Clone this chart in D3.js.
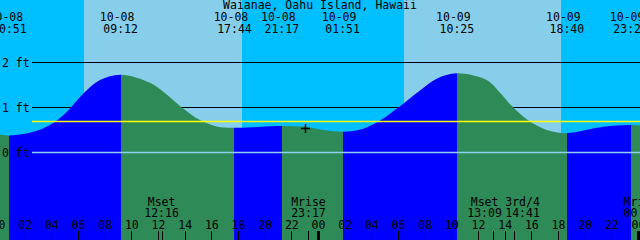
<!DOCTYPE html>
<html><head><meta charset="utf-8">
<script src="https://cdn.jsdelivr.net/npm/d3@7"></script>
<style>
html,body{margin:0;padding:0;background:#00BFFF;}
svg{display:block;}
text{font-family:"DejaVu Sans Mono",monospace;font-size:11.5px;fill:#000;}
line.crisp{shape-rendering:crispEdges;}
.tick line{shape-rendering:crispEdges;}
</style>
</head><body>
<svg id="c" width="640" height="240"></svg>
<script>
const title = "Waianae, Oahu Island, Hawaii";
const domainTimes = ["10-08 00:09", "10-10 00:09"];

// Tide extremes
const tideTimes   = ["10-08 00:51","10-08 09:12","10-08 17:44","10-08 21:17","10-09 01:51","10-09 10:25","10-09 18:40","10-09 23:27"];
const tideTypes   = ["low","high","low","high","low","high","low","high"];
const tideHeights = [0.38, 1.73, 0.55, 0.59, 0.46, 1.76, 0.43, 0.61];

// Additional curve readings (ft) between extremes
const readTimes   = ["10-07 23:00","10-08 02:39","10-08 03:54","10-08 05:09","10-08 06:24","10-08 07:39",
                     "10-08 11:24","10-08 12:39","10-08 13:47","10-08 15:09","10-08 16:24",
                     "10-08 23:02","10-09 00:09","10-09 03:24","10-09 04:39","10-09 06:01","10-09 07:39","10-09 08:54",
                     "10-09 12:39","10-09 13:39","10-09 14:39","10-09 15:47","10-09 17:09","10-09 21:24","10-10 01:00"];
const readHeights = [0.47, 0.46, 0.61, 0.90, 1.31, 1.61,
                     1.55, 1.29, 1.00, 0.72, 0.58,
                     0.57, 0.51, 0.53, 0.71, 1.00, 1.38, 1.64,
                     1.61, 1.33, 1.00, 0.71, 0.50, 0.57, 0.57];

const sunriseTimes = ["10-08 06:27","10-09 06:28"];
const sunsetTimes  = ["10-08 18:16","10-09 18:15"];

const moonTimes = ["10-08 12:16","10-08 23:17","10-09 13:09","10-09 14:41","10-10 00:13"];
const moonNames = ["Mset","Mrise","Mset","3rd/4","Mrise"];

const levelValues = [0, 1, 2];
const levelLabels = ["0 ft","1 ft","2 ft"];
const markLevel = 0.71;
const nowTime = "10-08 23:03";
const nowHeight = 0.55;

const W = 640, H = 240;
const parse = d3.utcParse("%m-%d %H:%M");
const fmtHM = d3.utcFormat("%H:%M");
const fmtMD = d3.utcFormat("%m-%d");

const x = d3.scaleUtc().domain(domainTimes.map(parse)).range([0, W]);
const y = d3.scaleLinear().domain([0, 2]).range([152.5, 62.5]);

const svg = d3.select("#c");

svg.append("rect").attr("width", W).attr("height", H).attr("fill", "#00BFFF");
sunriseTimes.forEach((s, i) => {
  const a = Math.round(x(parse(s))), b = Math.round(x(parse(sunsetTimes[i])));
  svg.append("rect").attr("x", a).attr("y", 0).attr("width", b - a).attr("height", H).attr("fill", "#87CEEB");
});

svg.selectAll("line.lvl").data(levelValues.filter(v => v > 0)).join("line")
  .attr("class", "lvl crisp")
  .attr("x1", 32).attr("x2", W)
  .attr("y1", d => y(d)).attr("y2", d => y(d))
  .attr("stroke", "#000").attr("stroke-width", 1);

const pts = tideTimes.map((t, i) => ({t: parse(t), h: tideHeights[i]}))
  .concat(readTimes.map((t, i) => ({t: parse(t), h: readHeights[i]})))
  .sort((a, b) => a.t - b.t);

const area = d3.area().x(d => x(d.t)).y0(H).y1(d => y(d.h)).curve(d3.curveCatmullRom.alpha(0.5));

const defs = svg.append("defs");
defs.append("clipPath").attr("id", "tideClip").append("path").attr("d", area(pts));

const bounds = [x.domain()[0]].concat(tideTimes.map(parse)).concat([x.domain()[1]]);
const segs = [];
for (let i = 0; i < bounds.length - 1; i++) {
  let rising;
  if (i < tideTypes.length) rising = tideTypes[i] === "high";
  else rising = tideTypes[tideTypes.length - 1] === "low";
  segs.push({a: bounds[i], b: bounds[i + 1], rising});
}
svg.append("g").attr("clip-path", "url(#tideClip)")
  .selectAll("rect").data(segs).join("rect")
  .attr("x", d => Math.round(x(d.a))).attr("y", 0)
  .attr("width", d => Math.round(x(d.b)) - Math.round(x(d.a))).attr("height", H)
  .attr("fill", d => d.rising ? "#0000FF" : "#2E8B57");

svg.append("line").attr("x1", 32).attr("x2", W).attr("y1", y(0)).attr("y2", y(0))
  .attr("stroke", "#8FD0F0").attr("stroke-width", 1.3);
const my = Math.round(y(markLevel)) + 0.5;
svg.append("line").attr("x1", 32).attr("x2", W).attr("y1", my).attr("y2", my)
  .attr("stroke", "#FFFF00").attr("stroke-width", 1.3);

svg.selectAll("text.lvl").data(levelValues).join("text")
  .attr("x", 2).attr("y", d => y(d) + 4)
  .text((d, i) => levelLabels[i]);

svg.append("text").attr("x", 320).attr("y", 9).attr("text-anchor", "middle").text(title);

const tl = svg.append("g");
tideTimes.forEach(t => {
  const d = parse(t), cx = x(d);
  tl.append("text").attr("x", cx - 3.5).attr("y", 21).attr("text-anchor", "middle").text(fmtMD(d));
  tl.append("text").attr("x", cx).attr("y", 33).attr("text-anchor", "middle").text(fmtHM(d));
});

const d0 = d3.utcHour.offset(x.domain()[0], -2), d1 = d3.utcHour.offset(x.domain()[1], 2);
const hourTicks = d3.utcHour.every(2).range(d0, d1);
const axis = d3.axisTop(x).tickValues(hourTicks).tickSize(9).tickPadding(2).tickFormat(d3.utcFormat("%H"));
const ag = svg.append("g").attr("transform", `translate(0,${H})`).call(axis);
ag.select(".domain").remove();
ag.attr("font-family", null).attr("font-size", null);
ag.selectAll(".tick line").attr("stroke", "#000")
  .attr("stroke-width", d => d.getUTCHours() === 0 ? 3 : 1);
ag.selectAll(".tick text").attr("fill", "#000");

const moon = moonTimes.map((t, i) => {
  const d = parse(t);
  const lab = fmtHM(d);
  return {t: d, name: moonNames[i], time: lab, cx: x(d), w: Math.max(moonNames[i].length, lab.length) * 7};
});
for (let i = 1; i < moon.length; i++) {
  const a = moon[i - 1], b = moon[i];
  const need = (a.w + b.w) / 2 + 3, gap = b.cx - a.cx;
  if (gap < need) { const p = (need - gap) / 2; a.cx -= p; b.cx += p; }
}
const mg = svg.append("g");
moon.forEach(m => {
  mg.append("line").attr("class", "crisp")
    .attr("x1", Math.round(x(m.t)) + 0.5).attr("x2", Math.round(x(m.t)) + 0.5)
    .attr("y1", H - 9).attr("y2", H).attr("stroke", "#000");
  mg.append("text").attr("x", m.cx).attr("y", 206).attr("text-anchor", "middle").text(m.name);
  mg.append("text").attr("x", m.cx).attr("y", 217).attr("text-anchor", "middle").text(m.time);
});

const nx = Math.round(x(parse(nowTime))) + 0.5, ny = Math.round(y(nowHeight)) + 0.5;
svg.append("path").attr("d", `M${nx - 4.5},${ny}H${nx + 4.5}M${nx},${ny - 4.5}V${ny + 4.5}`)
  .attr("stroke", "#000").attr("stroke-width", 1.5);
</script>
</body></html>
